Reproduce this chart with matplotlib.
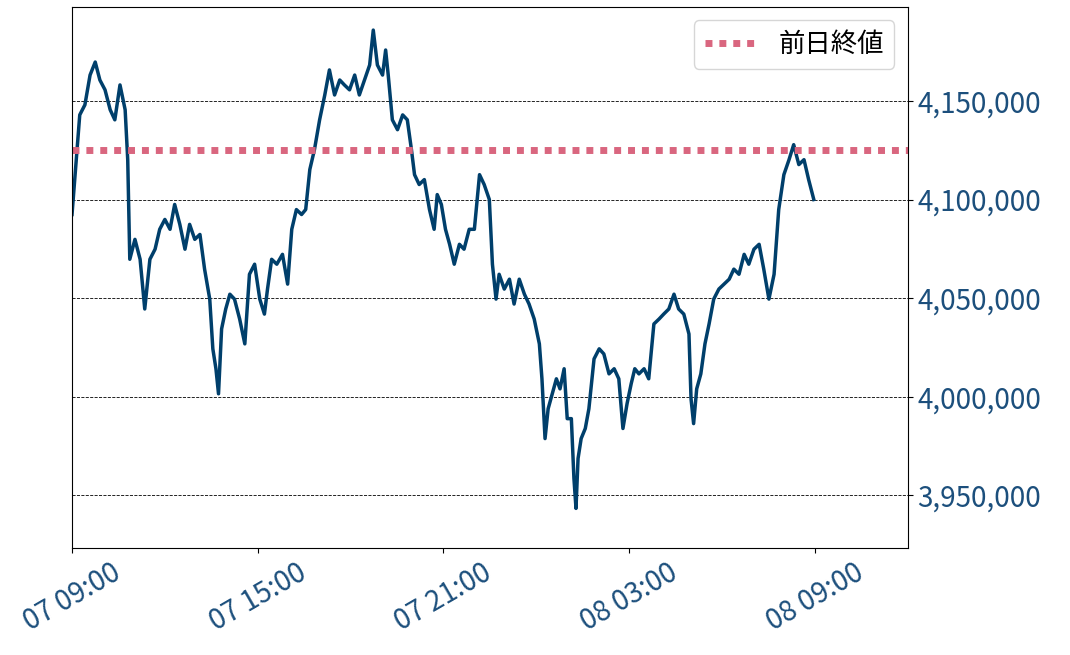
import matplotlib
matplotlib.use("Agg")
import matplotlib.pyplot as plt
import matplotlib.dates as mdates
import numpy as np
import pandas as pd

minutes = [0,6,15,25,35,45,54,64,74,83,93,103,108,112,122,132,141,151,161,170,180,190,199,209,219,228,238,248,257,267,273,279,284,290,298,306,315,325,335,344,354,364,373,379,387,397,408,418,426,435,445,453,461,470,480,490,499,509,519,528,538,548,557,567,577,584,592,602,608,613,621,631,641,650,658,664,673,683,693,702,708,716,724,732,741,751,760,770,780,790,799,809,815,822,828,838,848,857,867,877,886,896,906,911,917,923,931,939,946,954,960,968,973,977,981,987,995,1002,1012,1022,1031,1041,1051,1060,1068,1076,1084,1091,1099,1109,1118,1128,1138,1147,1157,1167,1176,1186,1196,1200,1205,1211,1219,1227,1235,1244,1254,1264,1274,1283,1293,1303,1312,1322,1332,1341,1351,1361,1370,1380,1390,1399,1409,1419,1428,1438]
prices_k = [4092.4,4112.6,4142.9,4148.0,4163.1,4169.7,4160.6,4155.6,4145.5,4140.4,4158.1,4145.5,4120.2,4069.7,4079.8,4069.7,4044.5,4069.7,4074.8,4084.9,4089.9,4084.9,4097.5,4087.4,4074.8,4087.4,4079.8,4082.3,4064.7,4049.5,4024.3,4014.2,4001.5,4034.4,4044.5,4052.0,4049.5,4039.4,4026.8,4062.1,4067.2,4049.5,4041.9,4054.6,4069.7,4067.2,4072.2,4057.1,4084.9,4094.9,4092.4,4094.9,4115.2,4125.3,4140.4,4153.0,4165.7,4153.0,4160.6,4158.1,4155.6,4163.1,4153.0,4160.6,4168.2,4185.9,4168.2,4163.1,4175.8,4163.1,4140.4,4135.4,4142.9,4140.4,4125.3,4112.6,4107.6,4110.1,4094.9,4084.9,4102.5,4097.5,4084.9,4077.3,4067.2,4077.3,4074.8,4084.9,4084.9,4112.6,4107.6,4100.0,4067.2,4049.5,4062.1,4054.6,4059.6,4047.0,4059.6,4052.0,4047.0,4039.4,4026.8,4009.1,3978.8,3993.9,4001.5,4009.1,4004.0,4014.2,3988.9,3988.9,3958.6,3943.4,3968.7,3978.8,3983.9,3993.9,4019.2,4024.3,4021.7,4011.6,4014.2,4009.1,3983.9,3996.5,4006.6,4014.2,4011.6,4014.2,4009.1,4036.9,4039.4,4041.9,4044.5,4052.0,4044.5,4041.9,4031.8,3999.0,3986.4,4004.0,4011.6,4026.8,4036.9,4049.5,4054.6,4057.1,4059.6,4064.7,4062.1,4072.2,4067.2,4074.8,4077.3,4064.7,4049.5,4062.1,4094.9,4112.6,4120.2,4127.8,4117.7,4120.2,4110.1,4100.0]
prev_close = 4125250
start = pd.Timestamp("2024-03-07 09:00")
times = [start + pd.Timedelta(minutes=m) for m in minutes]
prices = np.array(prices_k) * 1000
xticks = [start + pd.Timedelta(hours=h) for h in [0, 6, 12, 18, 24]]

plt.rcParams['font.family'] = ['Noto Sans CJK JP', 'DejaVu Sans']
fig = plt.figure(figsize=(10.7, 6.55), dpi=100)
ax = fig.add_axes([0.0673, 0.163, 0.781, 0.826])
tc = '#1c4f7c'
ax.plot(times, prices, color='#003f6b', lw=2.5)
ax.axhline(prev_close, color='#d9667f', lw=5, ls=(0, (1, 1)), label='前日終値')
ax.set_xlim(start, start + pd.Timedelta(hours=27))
ax.set_ylim(3923200, 4197500)
ax.set_xticks(xticks)
ax.xaxis.set_major_formatter(mdates.DateFormatter('%d %H:%M'))
ax.set_yticks([3950000, 4000000, 4050000, 4100000, 4150000])
ax.yaxis.set_major_formatter(matplotlib.ticker.FuncFormatter(lambda v, p: f"{int(v):,}"))
ax.yaxis.tick_right()
ax.grid(axis='y', color='black', ls='--', lw=0.6)
ax.tick_params(axis='both', labelsize=20, labelcolor=tc)
plt.setp(ax.get_xticklabels(), rotation=30, ha='center')
ax.legend(loc='upper right', fontsize=19)
fig.savefig('out.png', dpi=100)
